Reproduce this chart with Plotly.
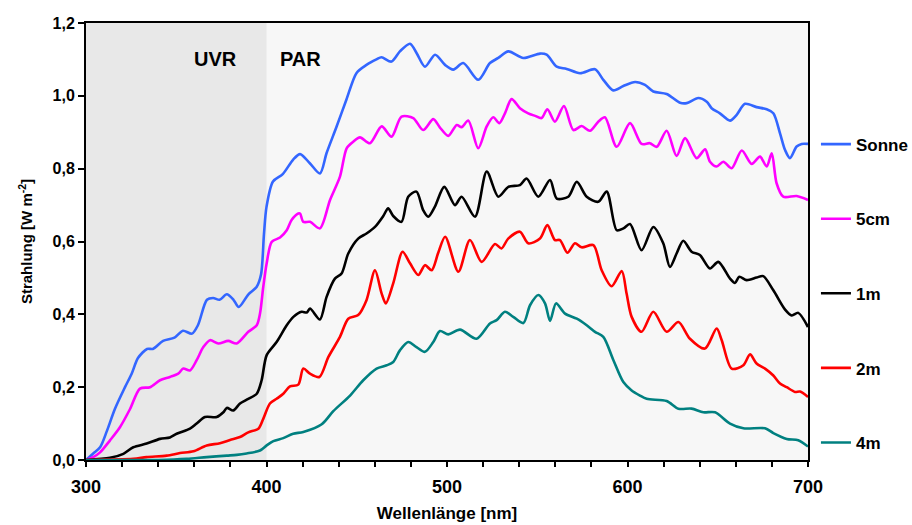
import plotly.graph_objects as go

# Spectral irradiance at the surface and at depth (W m^-2 per nm)
wl_sonne = [300, 304, 307.8, 311.6, 316, 321.6, 325.3, 328.8, 333.8, 337, 342.7, 349, 353.7, 358.7, 362,
            367, 370.4, 374, 378, 381.7, 384.6, 390, 394.5, 397, 398.6, 400, 403.6, 409, 414.8, 418.6,
            424, 429.6, 433.3, 438.8, 444.3, 449.9, 455.4, 460.9, 463.7, 469.2, 473.9, 479.5, 483.2,
            487.8, 493.4, 498.9, 503.5, 509, 517.3, 523.8, 528.4, 534, 542.3, 551.5, 555.2, 560.8,
            566.3, 573.7, 582, 586.6, 592.1, 597.7, 604.2, 609.7, 614.3, 621.7, 629.1, 632.8, 639.2,
            643.9, 646.6, 651.2, 656.8, 660.5, 665.1, 671.5, 677.1, 680.8, 684.5, 687.3, 690, 693.7,
            696.5, 700]
sonne = [0.0, 0.018, 0.035, 0.08, 0.14, 0.2, 0.237, 0.28, 0.305, 0.305, 0.327, 0.336, 0.355, 0.347, 0.37,
         0.44, 0.445, 0.44, 0.455, 0.44, 0.42, 0.455, 0.475, 0.51, 0.62, 0.695, 0.765, 0.785, 0.825, 0.84,
         0.815, 0.787, 0.843, 0.915, 0.99, 1.063, 1.085, 1.10, 1.106, 1.094, 1.122, 1.143, 1.117,
         1.08, 1.113, 1.085, 1.072, 1.09, 1.044, 1.09, 1.104, 1.122, 1.104, 1.116, 1.113, 1.08,
         1.074, 1.062, 1.073, 1.044, 1.015, 1.027, 1.038, 1.03, 1.012, 1.005, 0.981, 0.98, 0.994,
         0.984, 0.966, 0.952, 0.932, 0.948, 0.978, 0.969, 0.963, 0.952, 0.897, 0.851, 0.829, 0.861,
         0.868, 0.868]

wl_5cm = [300, 304, 307.8, 313.3, 318.8, 324.4, 329.9, 335.5, 341, 346.5, 351.1, 353.9, 357.6, 361.3, 365,
          368.7, 373.3, 378.8, 383.5, 389.9, 394.6, 396.4, 398.2, 400.1, 402.9, 407.5, 411.2, 413.9,
          417.6, 418.6, 420.4, 424.1, 429.6, 435.2, 440.7, 444.4, 448, 451.8, 457.3, 463.8, 469.3,
          474.8, 481.3, 486.8, 492.4, 496.1, 500.7, 505.4, 508.1, 511.8, 517.3, 522, 525.6, 529,
          532.1, 535.8, 540.4, 545, 548.8, 552.4, 555.6, 559.8, 564.8, 570, 574.6, 579.2, 583.8,
          587.5, 594, 601.4, 607.8, 612.4, 616.2, 621.7, 627.2, 631.9, 638.3, 643, 645.7, 649.4,
          653.1, 657.7, 663.3, 668.8, 673.4, 677.1, 679.9, 682.6, 686.3, 693.7, 700]
cm5 = [0.0, 0.008, 0.021, 0.054, 0.09, 0.14, 0.196, 0.2, 0.219, 0.228, 0.237, 0.251, 0.246, 0.274, 0.31,
       0.329, 0.32, 0.327, 0.32, 0.352, 0.37, 0.402, 0.475, 0.54, 0.599, 0.611, 0.631, 0.659,
       0.677, 0.677, 0.654, 0.654, 0.636, 0.714, 0.778, 0.856, 0.874, 0.886, 0.870, 0.916, 0.888,
       0.943, 0.939, 0.906, 0.936, 0.913, 0.89, 0.92, 0.914, 0.932, 0.856, 0.916, 0.941, 0.925,
       0.952, 0.991, 0.966, 0.952, 0.945, 0.939, 0.963, 0.929, 0.972, 0.906, 0.917, 0.904, 0.929,
       0.941, 0.860, 0.925, 0.868, 0.870, 0.860, 0.904, 0.835, 0.884, 0.829, 0.853, 0.819, 0.806,
       0.819, 0.801, 0.850, 0.813, 0.833, 0.806, 0.842, 0.760, 0.723, 0.725, 0.714]

wl_1m = [300, 313.3, 320.7, 326.2, 333.6, 341, 346.5, 350.2, 357.6, 361.3, 365.9, 372.4, 376.1, 378, 381.6,
         385.3, 389.9, 394.6, 397.3, 400.1, 405.6, 411.2, 414.9, 419.5, 422.3, 424.1, 429.6, 433.3,
         437.9, 441.6, 445.3, 450.8, 455.4, 460.1, 464.7, 467.4, 470.2, 474.8, 478.5, 483.1, 486.8,
         489.6, 493.3, 498.5, 504.4, 508.1, 515.5, 522, 528.4, 534, 540.4, 544.1, 550.6, 557.1,
         560.8, 567.2, 571.9, 577.4, 583.8, 588.5, 594, 597.7, 601.4, 607.8, 614.3, 619.8, 623.5,
         627.2, 630.9, 635.5, 640.1, 645.7, 650.3, 656.8, 659.5, 661.9, 666, 671.5, 675.2, 680.8,
         687.3, 691, 694.6, 700]
m1 = [0.0, 0.006, 0.017, 0.035, 0.045, 0.058, 0.062, 0.072, 0.086, 0.1, 0.118, 0.118, 0.131, 0.143, 0.136,
      0.155, 0.168, 0.182, 0.219, 0.288, 0.324, 0.37, 0.393, 0.407, 0.405, 0.416, 0.386, 0.448,
      0.498, 0.512, 0.567, 0.608, 0.622, 0.640, 0.67, 0.691, 0.67, 0.654, 0.723, 0.737, 0.686,
      0.668, 0.696, 0.75, 0.70, 0.723, 0.668, 0.792, 0.723, 0.75, 0.755, 0.773, 0.723, 0.769,
      0.718, 0.723, 0.764, 0.723, 0.709, 0.737, 0.631, 0.636, 0.648, 0.576, 0.640, 0.595, 0.530,
      0.567, 0.602, 0.572, 0.563, 0.526, 0.544, 0.498, 0.486, 0.503, 0.494, 0.501, 0.505, 0.466,
      0.413, 0.397, 0.404, 0.365]

wl_2m = [300, 326.2, 333.5, 344.7, 352.1, 359.5, 366.9, 374.2, 379.8, 385.3, 389.9, 395.5, 398.2, 401.9,
         405.6, 409.3, 413, 417.6, 420.4, 424.1, 429.3, 434.3, 440.7, 445.3, 450.8, 455.4, 460.1,
         463.8, 466.1, 470.2, 475.4, 479.5, 484.1, 487.8, 491.5, 495.2, 499, 506.3, 512.7, 519.2,
         526.6, 530.2, 533.9, 540.4, 545, 551.5, 555.6, 559.8, 562.6, 566.7, 570.9, 574.6, 581.1,
         585.7, 591.2, 596.8, 599.5, 602.3, 607.8, 614.3, 621.7, 628.2, 634.6, 642.9, 649.4, 652.2,
         657.7, 664.2, 667.9, 671.5, 676.2, 680.8, 684.5, 688.2, 692.8, 695.6, 700]
m2 = [0.0, 0.003, 0.008, 0.012, 0.019, 0.024, 0.04, 0.046, 0.055, 0.063, 0.076, 0.086, 0.113, 0.155,
      0.168, 0.182, 0.202, 0.207, 0.251, 0.237, 0.228, 0.283, 0.338, 0.388, 0.398, 0.439, 0.521,
      0.457, 0.43, 0.485, 0.572, 0.54, 0.508, 0.535, 0.521, 0.570, 0.613, 0.517, 0.604, 0.544,
      0.593, 0.581, 0.608, 0.627, 0.595, 0.608, 0.645, 0.604, 0.604, 0.569, 0.595, 0.584, 0.59,
      0.521, 0.477, 0.519, 0.457, 0.393, 0.352, 0.407, 0.352, 0.379, 0.333, 0.306, 0.361, 0.329,
      0.251, 0.26, 0.29, 0.265, 0.251, 0.232, 0.21, 0.2, 0.187, 0.188, 0.173]

wl_4m = [300, 340, 355.8, 366.9, 378, 383.5, 389, 396.4, 400.1, 403.8, 409.3, 414.8, 420.4, 430.6, 437,
         446.3, 453.6, 461, 466.6, 470.2, 473.9, 478.5, 483.1, 487.8, 492.4, 496.1, 500.7, 507.2,
         516.4, 523.8, 527.5, 532.1, 536.7, 542.3, 546, 550.6, 554.3, 557.1, 560.4, 565.4, 571.9,
         577.4, 582, 586.6, 592.2, 597.7, 602.3, 606.9, 610.6, 621.7, 628.2, 635.5, 642, 648.5,
         656.8, 664.2, 676.2, 680.8, 688.2, 694.6, 700]
m4 = [0.0, 0.0, 0.003, 0.008, 0.012, 0.014, 0.018, 0.026, 0.04, 0.052, 0.06, 0.072, 0.077, 0.098, 0.134,
      0.177, 0.219, 0.251, 0.26, 0.269, 0.301, 0.324, 0.31, 0.297, 0.324, 0.354, 0.345, 0.358,
      0.333, 0.375, 0.384, 0.407, 0.393, 0.376, 0.425, 0.453, 0.43, 0.382, 0.43, 0.402, 0.388,
      0.37, 0.352, 0.338, 0.274, 0.214, 0.191, 0.177, 0.168, 0.162, 0.141, 0.141, 0.131, 0.131,
      0.1, 0.087, 0.087, 0.074, 0.058, 0.054, 0.037]

series = [
    ("Sonne", wl_sonne, sonne, "#3366FF"),
    ("5cm", wl_5cm, cm5, "#FF00FF"),
    ("1m", wl_1m, m1, "#000000"),
    ("2m", wl_2m, m2, "#FF0000"),
    ("4m", wl_4m, m4, "#008080"),
]

uvr_band = (300, 400)
region_labels = [("UVR", 371.5), ("PAR", 419)]

FONT = "Liberation Sans, Arial, sans-serif"

fig = go.Figure()
for name, x, y, color in series:
    fig.add_trace(go.Scatter(
        x=x, y=y, name=name, mode="lines", legendgroup=name,
        line=dict(color=color, width=2.6, shape="spline", smoothing=0.8),
    ))

# UV band shading
fig.add_shape(type="rect", xref="x", yref="y", x0=uvr_band[0], x1=uvr_band[1], y0=0, y1=1.2,
              fillcolor="#E8E8E8", line_width=0, layer="below")

for text, xpos in region_labels:
    fig.add_annotation(x=xpos, y=1.1, xref="x", yref="y", text=text, showarrow=False,
                       font=dict(family=FONT, size=20, color="#000000", weight="bold"))

fig.update_layout(
    width=912, height=525,
    margin=dict(l=86, r=104, t=23, b=65, autoexpand=False),
    paper_bgcolor="#FFFFFF",
    plot_bgcolor="#F7F7F7",
    font=dict(family=FONT, color="#000000", weight="bold"),
    showlegend=True,
    legend=dict(x=1.011, y=0.763, xanchor="left", yanchor="top",
                font=dict(family=FONT, size=17, weight="bold"),
                tracegroupgap=49.5, bgcolor="rgba(0,0,0,0)", itemwidth=30),
    separators=",.",
)

fig.update_xaxes(
    range=[300, 700], tickvals=[300, 400, 500, 600, 700],
    ticks="outside", ticklen=5, tickwidth=1.5, tickcolor="#000000",
    minor=dict(dtick=20, ticks="outside", ticklen=5, tickwidth=1.5, tickcolor="#000000"),
    showline=True, linecolor="#000000", linewidth=2, mirror=True,
    showgrid=False, zeroline=False,
    tickfont=dict(family=FONT, size=18, weight="bold"), ticklabelstandoff=4,
    title=dict(text="Wellenlänge [nm]", font=dict(family=FONT, size=17, weight="bold"), standoff=12),
)
fig.update_yaxes(
    range=[0, 1.2], dtick=0.2, tickformat=".1f",
    ticks="outside", ticklen=6, tickwidth=1.5, tickcolor="#000000",
    showline=True, linecolor="#000000", linewidth=2, mirror=True,
    showgrid=False, zeroline=False,
    tickfont=dict(family=FONT, size=16, weight="bold"),
    title=dict(text="Strahlung [W m<sup>-2</sup>]", font=dict(family=FONT, size=15, weight="bold"),
               standoff=16),
)

fig.write_html("out.html")
